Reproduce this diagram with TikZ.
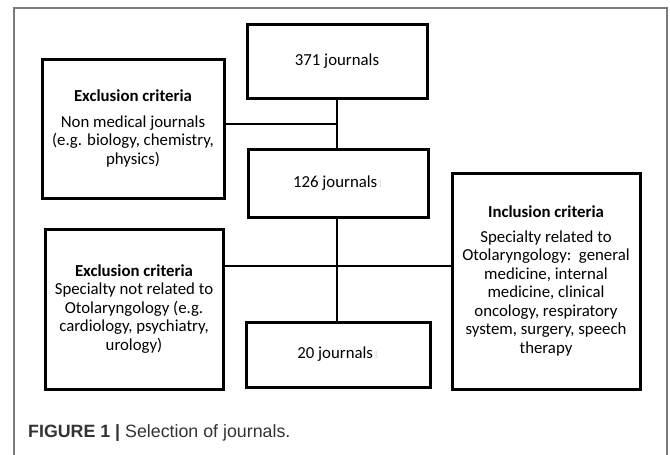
\documentclass[tikz,border=0pt]{standalone}
\usepackage{fontspec}
\setmainfont{Carlito}
\newfontfamily\capfont{Liberation Sans}
\definecolor{framegray}{HTML}{7A7A7A}
\definecolor{capgray}{HTML}{333333}
\newcommand{\ghostone}{\textcolor{black!12}{\fontsize{11}{11}\selectfont 1}}
\begin{document}
\begin{tikzpicture}[x=1pt,y=-1pt,
  flowbox/.style={draw=black,line width=3pt,rectangle,align=center,inner sep=0pt,
    font=\fontsize{16.8}{18.5}\selectfont},
  link/.style={draw=black,line width=1.6pt}]
\useasboundingbox (0,0) rectangle (670,455);
\fill[white] (0,0) rectangle (670,455);
% outer frame (open at the bottom)
\draw[framegray,line width=1.3pt] (14,455) -- (14,8) -- (667,8) -- (667,455);
% boxes
\node[flowbox,minimum width=180pt,minimum height=74pt] (j371) at (337,61) {371 journals};
\node[flowbox,minimum width=182pt,minimum height=139pt] (ex1) at (133,128.5)
  {\textbf{Exclusion criteria}\\[7pt]Non medical journals\\(e.g. biology, chemistry,\\physics)};
\node[flowbox,minimum width=180pt,minimum height=68pt] (j126) at (338,183) {126 journals\ghostone};
\node[flowbox,minimum width=188pt,minimum height=216pt] (inc) at (546,281)
  {\textbf{Inclusion criteria}\\[6pt]Specialty related to\\Otolaryngology:\ \ general\\medicine, internal\\medicine, clinical\\oncology, respiratory\\system, surgery, speech\\therapy};
\node[flowbox,minimum width=178pt,minimum height=160pt] (ex2) at (134,309)
  {\textbf{Exclusion criteria}\\Specialty not related to\\Otolaryngology (e.g.\\cardiology, psychiatry,\\urology)};
\node[flowbox,minimum width=184pt,minimum height=65pt] (j20) at (338,354.5) {20 journals\ghostone};
% connectors
\coordinate (t1) at (337,124);
\coordinate (t2) at (337,266);
\draw[link] (j371.south -| t1) -- (j126.north -| t1);
\draw[link] (ex1.east |- t1) -- (t1);
\draw[link] (j126.south -| t2) -- (j20.north -| t2);
\draw[link] (ex2.east |- t2) -- (inc.west |- t2);
% caption
\node[anchor=base west,inner sep=0pt,text=capgray,font=\capfont\fontsize{17.8}{20}\selectfont] (cap) at (28,437)
  {\textbf{FIGURE 1 |} Selection of journals.};
\end{tikzpicture}
\end{document}
